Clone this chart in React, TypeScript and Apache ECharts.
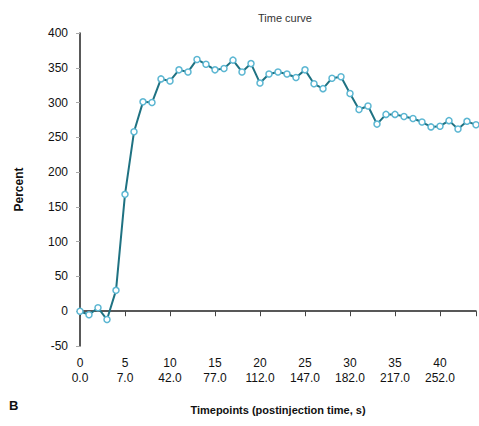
import React, { useEffect, useRef } from "react";
import * as echarts from "echarts";

const titleText = "Time curve";
const yAxisName = "Percent";
const xAxisName = "Timepoints (postinjection time, s)";
const panelLabel = "B";

const timepoints = [0, 1, 2, 3, 4, 5, 6, 7, 8, 9, 10, 11, 12, 13, 14, 15, 16, 17, 18, 19, 20, 21, 22, 23, 24, 25, 26, 27, 28, 29, 30, 31, 32, 33, 34, 35, 36, 37, 38, 39, 40, 41, 42, 43, 44];
const percent = [0, -5, 5, -12, 30, 168, 258, 301, 300, 334, 331, 347, 344, 362, 355, 347, 349, 361, 344, 356, 328, 341, 344, 341, 336, 347, 327, 320, 335, 337, 313, 290, 295, 269, 283, 283, 280, 277, 272, 265, 266, 274, 262, 273, 268];

const xTickIndex = [0, 5, 10, 15, 20, 25, 30, 35, 40];
const xTickTime = ["0.0", "7.0", "42.0", "77.0", "112.0", "147.0", "182.0", "217.0", "252.0"];

export default function App() {
  const ref = useRef<HTMLDivElement>(null);
  useEffect(() => {
    if (!ref.current) return;
    const chart = echarts.init(ref.current, null, { renderer: "svg" });
    const font = "Liberation Sans, Arial, sans-serif";
    chart.setOption({
      animation: false,
      backgroundColor: "#ffffff",
      textStyle: { fontFamily: font },
      title: {
        text: titleText,
        left: 280,
        top: 7,
        textAlign: "center",
        textStyle: { fontSize: 11, fontWeight: "normal", color: "#333", fontFamily: font },
      },
      graphic: [
        {
          type: "text",
          left: 9,
          top: 399,
          style: { text: panelLabel, font: "bold 13px Liberation Sans, Arial, sans-serif", fill: "#111" },
        },
      ],
      grid: { left: 80, right: 0, top: 33, bottom: 80, containLabel: false },
      xAxis: {
        type: "value",
        min: 0,
        max: 44,
        interval: 5,
        name: xAxisName,
        nameLocation: "middle",
        nameGap: 58,
        nameTextStyle: { fontSize: 11, fontWeight: "bold", color: "#111", fontFamily: font },
        axisLine: { show: true, lineStyle: { color: "#222", width: 1.5 } },
        axisTick: { show: true, length: 5, lineStyle: { color: "#444" } },
        splitLine: { show: false },
        axisLabel: {
          color: "#111",
          fontSize: 12,
          lineHeight: 15,
          margin: 9,
          formatter: (v: number) => {
            const i = xTickIndex.indexOf(v);
            return i >= 0 ? `${v}\n${xTickTime[i]}` : "";
          },
        },
      },
      yAxis: {
        type: "value",
        min: -50,
        max: 400,
        interval: 50,
        name: yAxisName,
        nameLocation: "middle",
        nameGap: 55,
        nameRotate: 90,
        nameTextStyle: { fontSize: 12, fontWeight: "bold", color: "#111", fontFamily: font },
        axisLine: { show: true, lineStyle: { color: "#222", width: 1.5 } },
        axisTick: { show: true, length: 4, lineStyle: { color: "#aaa" } },
        splitLine: { show: false },
        axisLabel: { color: "#111", fontSize: 12, margin: 12 },
      },
      series: [
        {
          type: "line",
          data: timepoints.map((t, i) => [t, percent[i]]),
          symbol: "circle",
          symbolSize: 6,
          showSymbol: true,
          lineStyle: { color: "#1f7282", width: 2 },
          itemStyle: { color: "#ffffff", borderColor: "#5bb6d2", borderWidth: 1.5 },
          z: 3,
        },
      ],
    });
    return () => chart.dispose();
  }, []);
  return (
    <div
      ref={ref}
      style={{ position: "fixed", left: 0, top: 0, width: 479, height: 426 }}
    />
  );
}
